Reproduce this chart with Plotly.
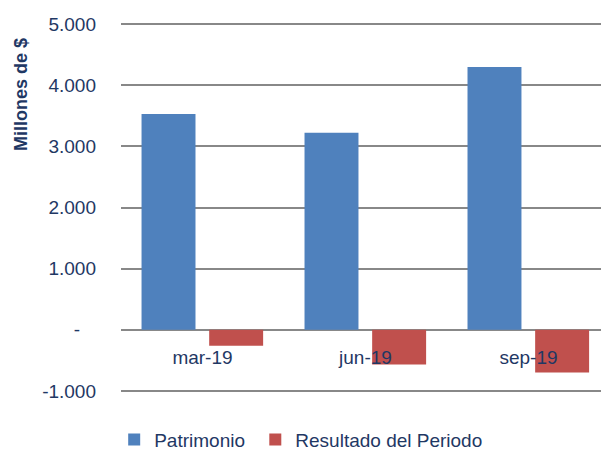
import plotly.graph_objects as go

categories = ["mar-19", "jun-19", "sep-19"]
patrimonio = [3529, 3224, 4297]
resultado = [-261, -567, -697]
y_tickvals = [-1000, 0, 1000, 2000, 3000, 4000, 5000]
y_ticktext = ["-1.000", "-\u00a0\u00a0\u00a0", "1.000", "2.000", "3.000", "4.000", "5.000"]

navy = "#1F3864"
font_family = "Liberation Sans, Arial, sans-serif"

ymin, ymax = -1000, 5000
pad = 32.7
yr = [ymin - pad, ymax + pad]
zero_pos = (0 - yr[0]) / (yr[1] - yr[0])

fig = go.Figure()
fig.add_trace(go.Bar(x=categories, y=patrimonio, name="Patrimonio\u00a0",
                     marker=dict(color="#4F81BD", line=dict(width=0)),
                     width=0.331, offset=-0.374))
fig.add_trace(go.Bar(x=categories, y=resultado, name="Resultado del Periodo",
                     marker=dict(color="#C0504D", line=dict(width=0)),
                     width=0.331, offset=0.041))

fig.update_layout(
    width=601, height=451,
    margin=dict(l=121, r=0, t=22, b=58, autoexpand=False),
    paper_bgcolor="white", plot_bgcolor="white",
    barmode="group",
    font=dict(family=font_family, size=19, color=navy),
    showlegend=True,
    legend=dict(orientation="h", xref="container", yref="container",
                x=0.19, xanchor="left", y=0.025, yanchor="middle",
                font=dict(size=19, color=navy),
                itemwidth=30, bgcolor="rgba(0,0,0,0)"),
    xaxis=dict(type="category", range=[-0.5, 2.445], showgrid=False,
               showline=False, ticks="", anchor="free", position=zero_pos,
               ticklabelstandoff=14, tickfont=dict(size=19, color=navy)),
    yaxis=dict(range=yr, tickvals=y_tickvals, ticktext=y_ticktext,
               showgrid=True, gridcolor="#888888", gridwidth=1.5,
               zeroline=False, showline=False, ticks="",
               ticklabelstandoff=24, tickfont=dict(size=19, color=navy)),
    annotations=[dict(text="<b>Millones de $</b>", textangle=-90,
                      xref="paper", yref="paper", x=-0.2, y=1,
                      showarrow=False, font=dict(size=18, color=navy),
                      xanchor="center", yanchor="middle")],
)

plot_h = 451 - 22 - 58
plot_w = 601 - 121
fig.layout.annotations[0].x = (21 - 121) / plot_w
fig.layout.annotations[0].y = (451 - 58 - 95) / plot_h

fig.write_html("out.html", config={"displayModeBar": False},
               post_script="document.body.style.margin='0';document.body.style.overflow='hidden';")
